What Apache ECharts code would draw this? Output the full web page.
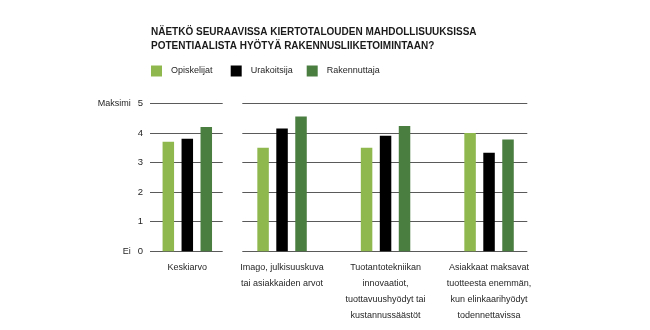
<!DOCTYPE html>
<html>
<head>
<meta charset="utf-8">
<script src="https://cdn.jsdelivr.net/npm/echarts@6/dist/echarts.min.js"></script>
<style>
  html, body { margin: 0; padding: 0; background: #fff; }
  #chart { width: 650px; height: 330px; }
</style>
</head>
<body>
<div id="chart"></div>
<script>
// Survey answers, scale 0 (Ei) .. 5 (Maksimi)
const titleLines = [
  'NÄETKÖ SEURAAVISSA KIERTOTALOUDEN MAHDOLLISUUKSISSA',
  'POTENTIAALISTA HYÖTYÄ RAKENNUSLIIKETOIMINTAAN?'
];
const summaryCategory = ['Keskiarvo'];
const categories = [
  'Imago, julkisuuskuva\ntai asiakkaiden arvot',
  'Tuotantotekniikan\ninnovaatiot,\ntuottavuushyödyt tai\nkustannussäästöt',
  'Asiakkaat maksavat\ntuotteesta enemmän,\nkun elinkaarihyödyt\ntodennettavissa'
];
const seriesNames = ['Opiskelijat', 'Urakoitsija', 'Rakennuttaja'];
const colors = ['#8fb84f', '#000000', '#4a7d40'];
// first value = Keskiarvo, then the three categories
const opiskelijat = [3.7, 3.5, 3.5, 4.0];
const urakoitsija = [3.8, 4.15, 3.9, 3.33];
const rakennuttaja = [4.2, 4.55, 4.23, 3.78];
const values = [opiskelijat, urakoitsija, rakennuttaja];
const yTickNames = { 0: 'Ei', 5: 'Maksimi' };

const FONT = '"Liberation Sans", Arial, sans-serif';
const TEXT = '#262626';
const TOP = 103.3, HEIGHT = 148;

const chart = echarts.init(document.getElementById('chart'));

const valueAxisBase = {
  type: 'value', min: 0, max: 5, interval: 1,
  axisLine: { show: false }, axisTick: { show: false }
};

const series = [];
values.forEach((vals, i) => {
  series.push({
    name: seriesNames[i], type: 'bar', xAxisIndex: 2, yAxisIndex: 2,
    data: vals.slice(0, 1), barWidth: 11.5, barGap: '65%',
    itemStyle: { color: colors[i] }
  });
  series.push({
    name: seriesNames[i], type: 'bar', xAxisIndex: 3, yAxisIndex: 3,
    data: vals.slice(1), barWidth: 11.5, barGap: '65%',
    itemStyle: { color: colors[i] }
  });
});

const legendLefts = [146, 225.7, 301.7];

const categoryLabel = {
  interval: 0, margin: 8, fontSize: 9, lineHeight: 16, color: TEXT, fontFamily: FONT
};

chart.setOption({
  animation: false,
  textStyle: { fontFamily: FONT },
  title: {
    text: titleLines.join('\n'),
    left: 146, top: 19.5,
    textStyle: { fontFamily: FONT, fontSize: 10, fontWeight: 'bold', color: '#1a1a1a', lineHeight: 14.5 }
  },
  legend: seriesNames.map((n, i) => ({
    data: [n], left: legendLefts[i], top: 60.5,
    icon: 'rect', itemWidth: 11, itemHeight: 11,
    textStyle: { fontFamily: FONT, fontSize: 9, color: TEXT, padding: [0, 0, 0, 4] },
    selectedMode: false
  })),
  grid: [
    // horizontal rules, left block
    { left: 150, top: TOP, width: 72.7, height: HEIGHT },
    // horizontal rules, right block
    { left: 242.3, top: TOP, width: 285, height: HEIGHT },
    // bars: summary
    { left: 150, top: TOP, width: 74.6, height: HEIGHT },
    // bars: categories
    { left: 230.3, top: TOP, width: 310.5, height: HEIGHT }
  ],
  xAxis: [
    { type: 'value', gridIndex: 0, show: false, min: 0, max: 1 },
    { type: 'value', gridIndex: 1, show: false, min: 0, max: 1 },
    {
      type: 'category', gridIndex: 2, data: summaryCategory,
      axisLine: { show: false }, axisTick: { show: false },
      axisLabel: categoryLabel
    },
    {
      type: 'category', gridIndex: 3, data: categories,
      axisLine: { show: false }, axisTick: { show: false },
      axisLabel: categoryLabel
    }
  ],
  yAxis: [
    Object.assign({}, valueAxisBase, {
      gridIndex: 0,
      splitLine: { lineStyle: { color: '#5a5a5a', width: 1 } },
      axisLabel: {
        margin: 7, fontSize: 9.5, color: TEXT, fontFamily: FONT,
        formatter: v => yTickNames[v] ? '{n|' + yTickNames[v] + '}' + v : String(v),
        rich: { n: { fontSize: 9, color: TEXT, fontFamily: FONT, padding: [0, 7, 0, 0] } }
      }
    }),
    Object.assign({}, valueAxisBase, {
      gridIndex: 1,
      splitLine: { lineStyle: { color: '#5a5a5a', width: 1 } },
      axisLabel: { show: false }
    }),
    Object.assign({}, valueAxisBase, { gridIndex: 2, show: false, splitLine: { show: false } }),
    Object.assign({}, valueAxisBase, { gridIndex: 3, show: false, splitLine: { show: false } })
  ],
  series: series
});
</script>
</body>
</html>
